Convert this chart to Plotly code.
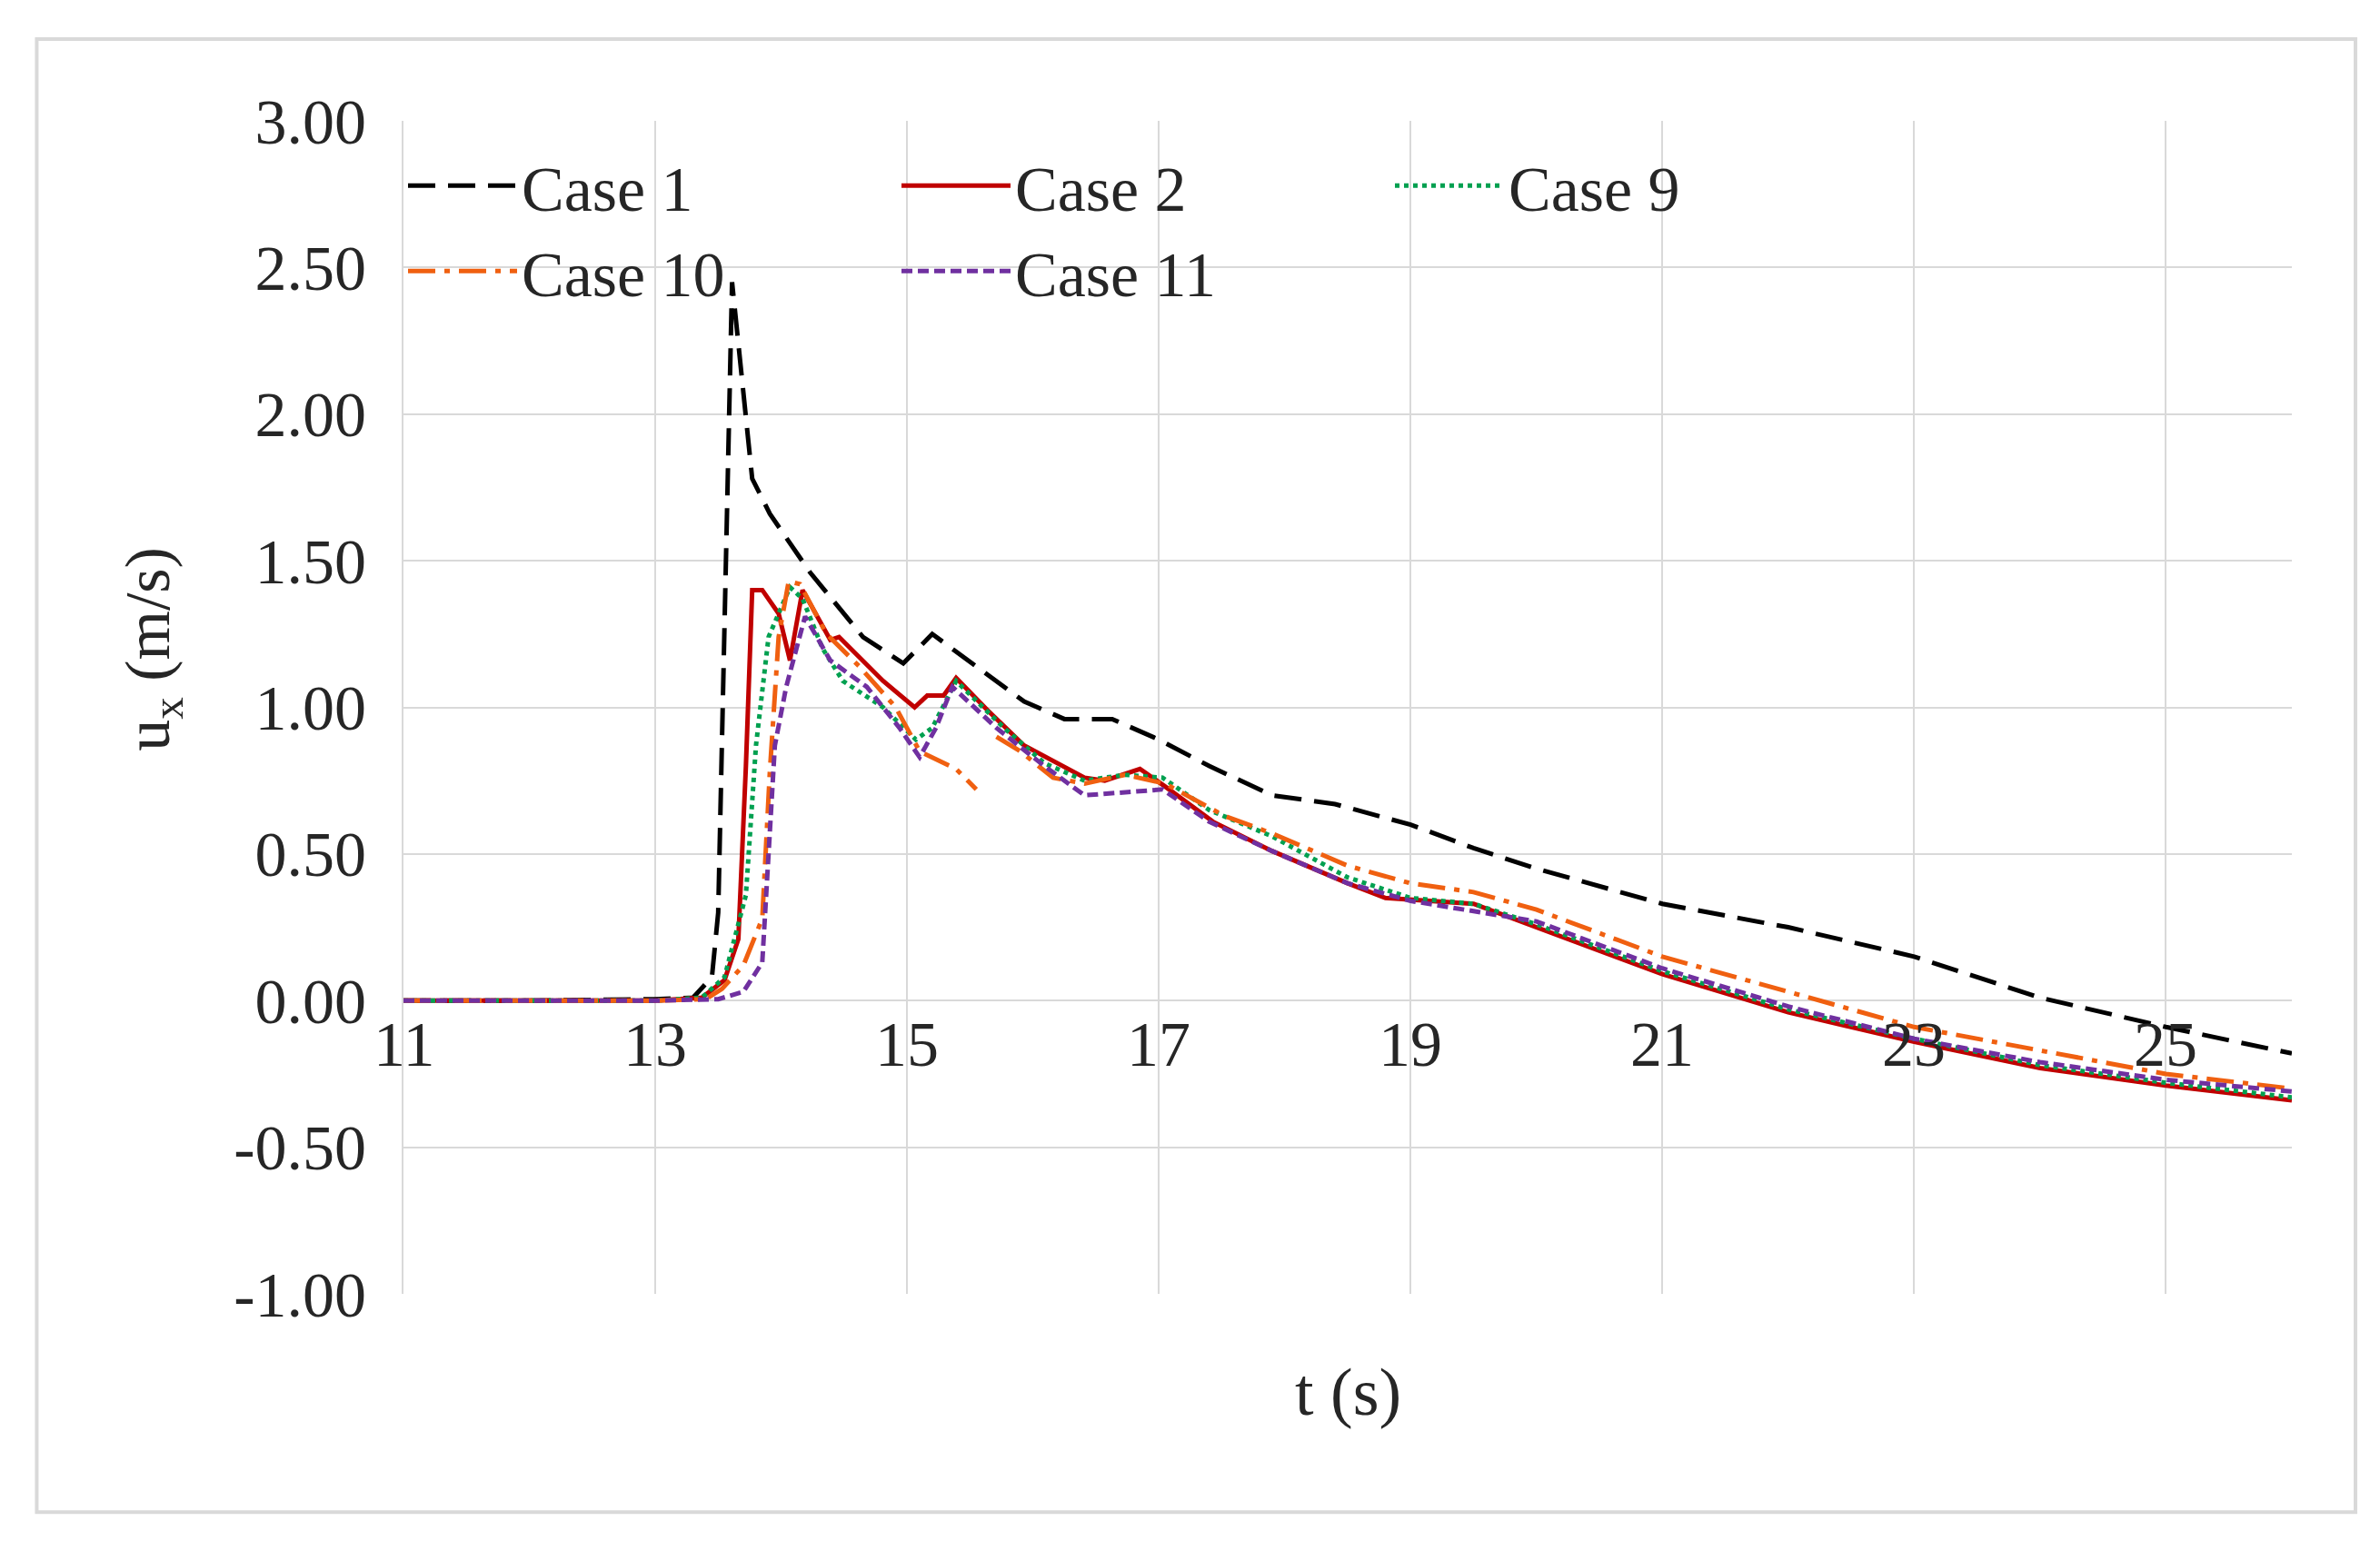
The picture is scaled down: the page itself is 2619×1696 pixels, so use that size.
import plotly.graph_objects as go

t1 = [11, 12, 13, 13.3, 13.45, 13.5, 13.61, 13.77, 13.91, 14.23, 14.65, 14.97, 15.2, 15.45, 15.93, 16.25, 16.63, 17.0, 17.4, 17.9, 18.4, 19.0, 19.5, 20.0, 20.5, 21.0, 22.0, 23.0, 23.5, 24.0, 25.0, 26.0]
u1 = [0.0, 0.0, 0.005, 0.01, 0.08, 0.3, 2.45, 1.78, 1.66, 1.46, 1.24, 1.15, 1.25, 1.17, 1.02, 0.96, 0.96, 0.89, 0.80, 0.70, 0.67, 0.60, 0.52, 0.45, 0.39, 0.33, 0.25, 0.15, 0.08, 0.01, -0.09, -0.18]

t2 = [11, 12, 13, 13.37, 13.55, 13.66, 13.72, 13.77, 13.85, 13.98, 14.07, 14.17, 14.39, 14.46, 14.81, 15.06, 15.16, 15.29, 15.39, 15.64, 15.93, 16.41, 16.57, 16.85, 17.05, 17.43, 17.9, 18.5, 18.8, 19.5, 20.0, 21.0, 22.0, 23.0, 24.0, 25.0, 26.0]
u2 = [0.0, 0.0, 0.0, 0.01, 0.07, 0.21, 0.8, 1.40, 1.40, 1.32, 1.16, 1.40, 1.23, 1.24, 1.09, 1.00, 1.04, 1.04, 1.10, 0.99, 0.87, 0.76, 0.75, 0.79, 0.73, 0.61, 0.51, 0.40, 0.35, 0.33, 0.25, 0.09, -0.04, -0.14, -0.23, -0.29, -0.34]

t9 = [11, 12, 13, 13.37, 13.55, 13.72, 13.8, 13.9, 14.07, 14.17, 14.33, 14.49, 14.81, 15.07, 15.2, 15.39, 15.77, 16.09, 16.41, 16.73, 17.03, 17.4, 17.9, 18.5, 19.0, 19.5, 20.0, 21.0, 22.0, 23.0, 24.0, 25.0, 26.0]
u9 = [0.0, 0.0, 0.0, 0.01, 0.08, 0.36, 0.87, 1.24, 1.41, 1.37, 1.20, 1.09, 1.00, 0.89, 0.93, 1.09, 0.93, 0.81, 0.75, 0.77, 0.76, 0.65, 0.56, 0.42, 0.35, 0.33, 0.26, 0.10, -0.03, -0.13, -0.22, -0.28, -0.33]

t10 = [11, 12, 13, 13.4, 13.53, 13.7, 13.85, 13.91, 13.98, 14.06, 14.15, 14.36, 14.62, 14.91, 15.1, 15.39, 15.55, 15.6, 15.71, 15.9, 16.16, 16.41, 16.73, 17.05, 17.52, 17.9, 18.5, 19.0, 19.5, 20.0, 21.0, 22.0, 23.0, 24.0, 25.0, 26.0]
u10 = [0.0, 0.0, 0.0, 0.005, 0.04, 0.12, 0.28, 0.78, 1.24, 1.43, 1.42, 1.25, 1.14, 1.00, 0.85, 0.79, 0.72, None, 0.90, 0.85, 0.76, 0.74, 0.77, 0.74, 0.63, 0.57, 0.46, 0.40, 0.37, 0.31, 0.15, 0.03, -0.09, -0.17, -0.25, -0.30]

t11 = [11, 12, 13, 13.5, 13.7, 13.85, 13.95, 14.04, 14.19, 14.39, 14.68, 14.94, 15.1, 15.23, 15.36, 15.71, 16.09, 16.41, 16.73, 17.03, 17.4, 17.9, 18.5, 19.0, 20.0, 21.0, 22.0, 23.0, 24.0, 25.0, 26.0]
u11 = [0.0, 0.0, 0.0, 0.005, 0.03, 0.13, 0.87, 1.07, 1.31, 1.16, 1.07, 0.93, 0.83, 0.93, 1.07, 0.93, 0.80, 0.70, 0.71, 0.72, 0.61, 0.51, 0.40, 0.34, 0.27, 0.11, -0.02, -0.13, -0.21, -0.27, -0.31]

names = ["Case 1", "Case 2", "Case 9", "Case 10", "Case 11"]
xticks = [11, 13, 15, 17, 19, 21, 23, 25]
yticks = [3.0, 2.5, 2.0, 1.5, 1.0, 0.5, 0.0, -0.5, -1.0]

series = [(t1, u1, "black", "30px,14px"), (t2, u2, "#c00000", "solid"),
          (t9, u9, "#00a050", "dot"), (t10, u10, "#f06010", "30px,10px,6px,10px"),
          (t11, u11, "#7030a0", "12px,6px")]

fig = go.Figure()
for (tx, uy, c, d), n in zip(series, names):
    fig.add_trace(go.Scatter(x=tx, y=uy, name=n, mode="lines", connectgaps=False,
                             line=dict(color=c, dash=d, width=5)))

font = "Liberation Serif"
fs = 70
fig.update_layout(
    width=2619, height=1696, paper_bgcolor="white", plot_bgcolor="white",
    margin=dict(l=436, r=105, t=125, b=280),
    font=dict(family=font, size=fs, color="#262626"),
    legend=dict(orientation="h", x=0.0, y=0.985, xanchor="left", yanchor="top",
                bgcolor="rgba(255,255,255,0)", font=dict(size=fs), itemwidth=120,
                entrywidth=408, entrywidthmode="pixels", tracegroupgap=0),
    showlegend=True,
)
fig.update_xaxes(range=[11, 26], tickvals=xticks, showticklabels=False, showgrid=True,
                 gridcolor="#d9d9d9", gridwidth=2, zeroline=False, showline=False)
fig.update_yaxes(range=[-1.0, 3.0], tickvals=yticks, ticktext=[f"{v:.2f}" for v in yticks],
                 showgrid=True, gridcolor="#d9d9d9", gridwidth=2, zeroline=True,
                 zerolinecolor="#d9d9d9", zerolinewidth=2, showline=True,
                 linecolor="#d9d9d9", linewidth=2,
                 ticks="", ticklabelstandoff=25, tickfont=dict(size=fs))
for v in xticks:
    fig.add_annotation(x=v, y=0, xref="x", yref="y", text=str(v), showarrow=False,
                       yanchor="top", yshift=-8, font=dict(size=fs, family=font))
fig.add_annotation(x=0.5, y=-0.05, xref="paper", yref="paper", text="t (s)", showarrow=False,
                   yanchor="top", font=dict(size=74, family=font))
fig.add_annotation(x=-0.155, y=0.55, xref="paper", yref="paper", text="u<sub>x</sub> (m/s)",
                   showarrow=False, textangle=-90, font=dict(size=70, family=font))
fig.add_shape(type="rect", xref="paper", yref="paper", x0=-0.1942, x1=1.0337, y0=-0.186, y1=1.0698,
              line=dict(color="#d9d9d9", width=4))
fig.write_html("out.html")
